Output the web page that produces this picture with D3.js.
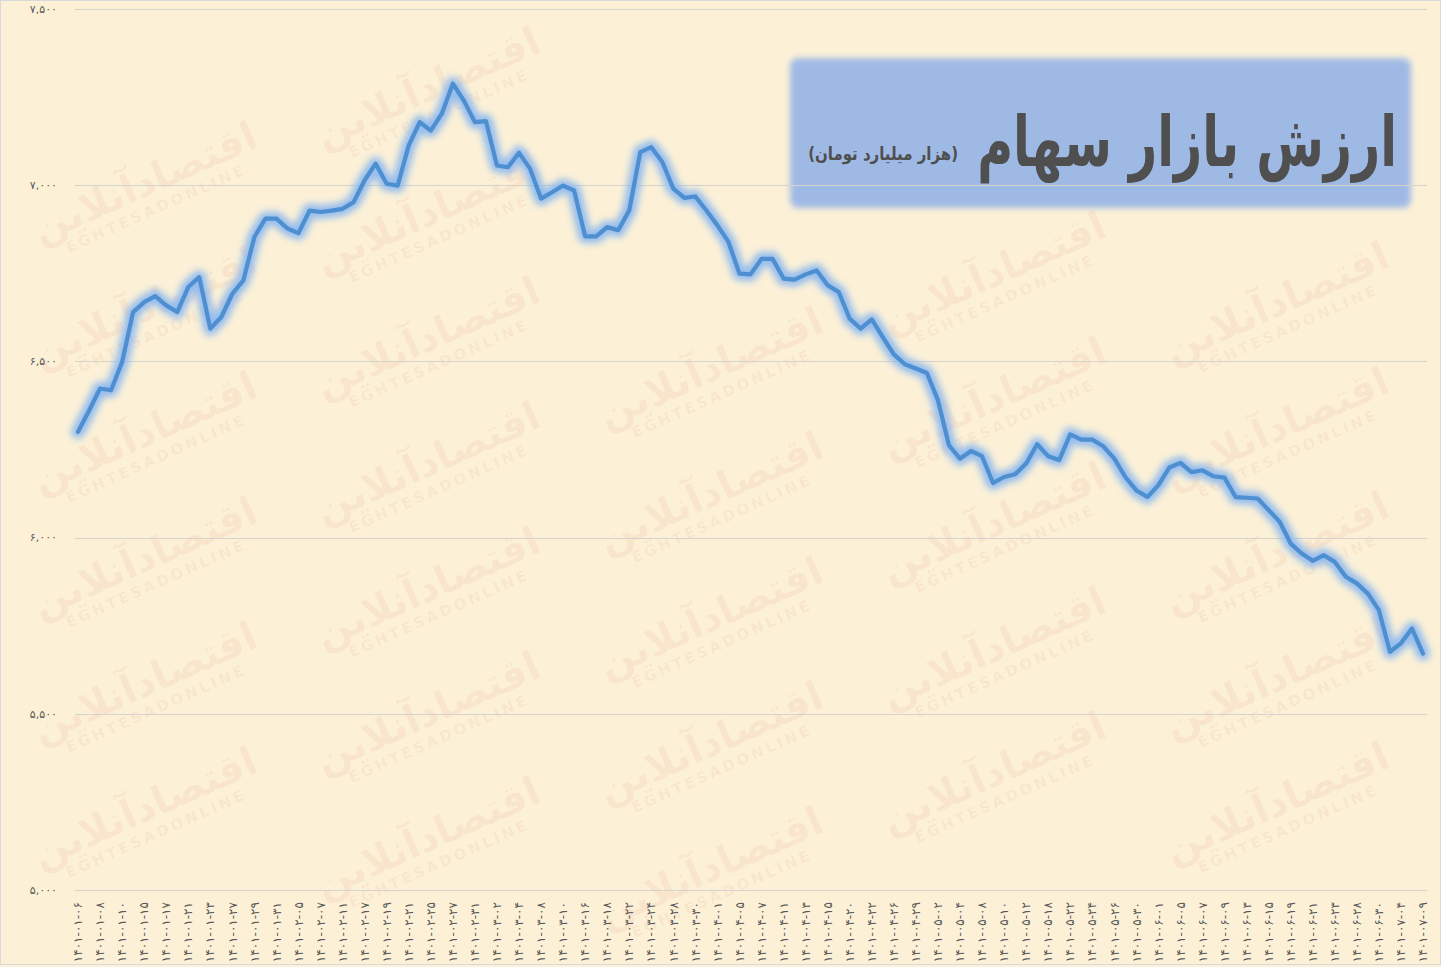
<!DOCTYPE html>
<html>
<head>
<meta charset="utf-8">
<script src="https://cdn.jsdelivr.net/npm/d3@7"></script>
<style>
  html, body { margin: 0; padding: 0; background: #fcf1d7; }
  svg { display: block; }
</style>
</head>
<body>
<svg id="chart" width="1441" height="967"></svg>
<script>
// ---- DATA ----
const tickLabels = [
  "1401-01-06","1401-01-08","1401-01-10","1401-01-15","1401-01-17","1401-01-21","1401-01-23","1401-01-27","1401-01-29","1401-01-31",
  "1401-02-05","1401-02-07","1401-02-11","1401-02-17","1401-02-19","1401-02-21","1401-02-25","1401-02-27","1401-02-31",
  "1401-03-02","1401-03-04","1401-03-08","1401-03-10","1401-03-16","1401-03-18","1401-03-22","1401-03-24","1401-03-28","1401-03-30",
  "1401-04-01","1401-04-05","1401-04-07","1401-04-11","1401-04-13","1401-04-15","1401-04-20","1401-04-22","1401-04-26","1401-04-29",
  "1401-05-02","1401-05-04","1401-05-08","1401-05-10","1401-05-12","1401-05-18","1401-05-22","1401-05-24","1401-05-26","1401-05-30",
  "1401-06-01","1401-06-05","1401-06-07","1401-06-09","1401-06-13","1401-06-15","1401-06-19","1401-06-21","1401-06-23","1401-06-28","1401-06-30",
  "1401-07-04","1401-07-09"
];
// market value (thousand billion toman), one per trading day; every 2nd day is labelled
const values = [
  6300,6360,6423,6418,6498,6640,6668,6685,6659,6640,
  6711,6739,6593,6626,6692,6730,6853,6905,6905,6877,
  6864,6928,6924,6928,6933,6952,7014,7061,7004,6999,
  7113,7179,7155,7203,7288,7240,7179,7182,7056,7051,
  7092,7047,6962,6980,6999,6985,6855,6855,6881,6872,
  6928,7094,7108,7066,6990,6964,6968,6928,6886,6839,
  6749,6747,6791,6791,6735,6732,6747,6758,6716,6697,
  6621,6593,6619,6569,6520,6492,6480,6467,6390,6262,
  6224,6246,6231,6155,6172,6180,6210,6265,6231,6220,
  6293,6278,6278,6259,6224,6172,6134,6115,6149,6199,
  6212,6186,6191,6174,6170,6115,6113,6111,6078,6045,
  5983,5955,5934,5950,5931,5889,5870,5841,5794,5676,
  5700,5742,5671
];
const yTicks = [5000, 5500, 6000, 6500, 7000, 7500];
const titleText = "ارزش بازار سهام";
const subtitleText = "(هزار میلیارد تومان)";
const watermarkFa = "اقتصادآنلاین";
const watermarkEn = "EGHTESADONLINE";

// ---- HELPERS ----
const faDigits = "۰۱۲۳۴۵۶۷۸۹";
const toFa = s => String(s).replace(/[0-9]/g, d => faDigits[+d]);

const W = 1441, H = 967;
const svg = d3.select("#chart");
const defs = svg.append("defs");

defs.append("filter").attr("id", "glow")
  .attr("x", "-5%").attr("y", "-5%").attr("width", "110%").attr("height", "110%")
  .append("feGaussianBlur").attr("stdDeviation", 3.6);
defs.append("filter").attr("id", "soft")
  .attr("x", "-5%").attr("y", "-10%").attr("width", "110%").attr("height", "120%")
  .append("feGaussianBlur").attr("stdDeviation", 3);

// background
svg.append("rect").attr("x", 0).attr("y", 0).attr("width", W).attr("height", H).attr("fill", "#fcf1d7");

// faint watermark pattern (kept inside the picture, away from the title box)
const wm = svg.append("g").attr("pointer-events", "none");
for (let r = -1; r < 9; r++) {
  for (let k = 0; k < 6; k++) {
    const cx = 150 + 283 * k;
    const cy = 70 + 125 * r + 30 * k;
    if (cx < 140 || cx > 1300 || cy < 95 || cy > 880) continue;
    if (cx > 680 && cy < 260) continue;
    const g = wm.append("g").attr("transform", `translate(${cx},${cy}) rotate(-24)`);
    g.append("text").attr("x", 0).attr("y", 0)
      .attr("text-anchor", "middle")
      .attr("font-family", "DejaVu Sans").attr("font-weight", "bold")
      .attr("font-size", 40)
      .attr("fill", "rgba(226,120,100,0.09)")
      .text(watermarkFa);
    g.append("text").attr("x", 0).attr("y", 20)
      .attr("text-anchor", "middle")
      .attr("font-family", "DejaVu Sans").attr("font-weight", "bold")
      .attr("font-size", 15).attr("letter-spacing", 3)
      .attr("fill", "rgba(226,120,100,0.09)")
      .text(watermarkEn);
  }
}

// title box (semi-transparent, soft edges)
svg.append("rect")
  .attr("x", 790).attr("y", 58).attr("width", 621).attr("height", 150)
  .attr("rx", 8).attr("fill", "#8fb0e8").attr("opacity", 0.85)
  .attr("filter", "url(#soft)");

// scales
const x = d3.scaleLinear().domain([0, values.length - 1]).range([78, 1423]);
const y = d3.scaleLinear().domain([5000, 7500]).range([890, 9]);

// gridlines
svg.append("g").selectAll("line").data(yTicks).join("line")
  .attr("x1", 75).attr("x2", 1427)
  .attr("y1", d => Math.round(y(d)) + 0.5).attr("y2", d => Math.round(y(d)) + 0.5)
  .attr("stroke", "#d6d2cc").attr("stroke-width", 1);

// y axis labels
svg.append("g").selectAll("text").data(yTicks).join("text")
  .attr("x", 57).attr("y", d => y(d)).attr("dy", "0.35em")
  .attr("text-anchor", "end")
  .attr("font-family", "DejaVu Sans").attr("font-size", 11)
  .attr("fill", "#595959")
  .text(d => toFa(d3.format(",")(d)));

// x axis labels (every second trading day)
svg.append("g").selectAll("text").data(tickLabels).join("text")
  .attr("transform", (d, i) => `translate(${x(i * 2)},902) rotate(-90)`)
  .attr("dy", "0.35em")
  .attr("text-anchor", "end")
  .attr("direction", "ltr")
  .attr("font-family", "DejaVu Sans").attr("font-size", 12)
  .attr("fill", "#595959")
  .text(d => toFa(d));

// line with glow
const line = d3.line().x((d, i) => x(i)).y(d => y(d));
svg.append("path").datum(values)
  .attr("d", line).attr("fill", "none")
  .attr("stroke", "#8ab7f0").attr("stroke-width", 14)
  .attr("stroke-linejoin", "round").attr("stroke-linecap", "round")
  .attr("opacity", 0.9).attr("filter", "url(#glow)");
svg.append("path").datum(values)
  .attr("d", line).attr("fill", "none")
  .attr("stroke", "#4d8fd1").attr("stroke-width", 4.2)
  .attr("stroke-linejoin", "round").attr("stroke-linecap", "round");

// title (condensed horizontally to match the narrow display face)
const titleEl = svg.append("text")
  .attr("x", 0).attr("y", 0)
  .attr("text-anchor", "end")
  .attr("font-family", "DejaVu Sans").attr("font-weight", "bold")
  .attr("font-size", 70).attr("fill", "#4f4f4f")
  .text(titleText);
const tw = titleEl.node().getComputedTextLength();
titleEl.attr("transform", `translate(1397,166) scale(${420 / tw},1)`);

const subEl = svg.append("text")
  .attr("x", 0).attr("y", 0)
  .attr("text-anchor", "end")
  .attr("font-family", "DejaVu Sans").attr("font-weight", "bold")
  .attr("font-size", 18).attr("fill", "#4f4f4f")
  .text(subtitleText);
const sw = subEl.node().getComputedTextLength();
subEl.attr("transform", `translate(958,160) scale(${150 / sw},1)`);

// outer border
svg.append("rect").attr("x", 0.5).attr("y", 0.5).attr("width", W - 1).attr("height", H - 3)
  .attr("fill", "none").attr("stroke", "#d9d9d9");
</script>
</body>
</html>
